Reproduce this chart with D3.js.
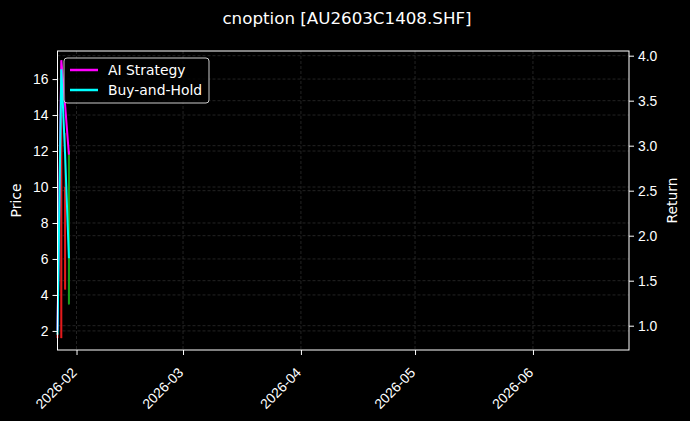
<!doctype html>
<html lang="en">
<head>
  <meta charset="utf-8">
  <title>cnoption</title>
  <style>
    body { margin: 0; background: #000; }
    svg { display: block; font-family: "DejaVu Sans", sans-serif; }
    .grid line { stroke: #555; stroke-opacity: .7; stroke-dasharray: 3,2; stroke-width: .6; }
    .axis path, .axis line { stroke: #fff; }
    .axis text { fill: #fff; font-size: 13.9px; }
  </style>
</head>
<body>
  <script src="https://cdn.jsdelivr.net/npm/d3@7/dist/d3.min.js"></script>
  <script>

// price bars (one per trading day)
var dates      = ["2026-01-27", "2026-01-28", "2026-01-29", "2026-01-30"];
var priceOpen  = [1.6, 1.6, 4.3, 12.0];
var priceHigh  = [2.2, 15.0, 13.0, 12.0];
var priceLow   = [1.4, 1.6, 4.3, 3.44];
var priceClose = [1.9, 14.0, 10.0, 3.5];

// cumulative return curves
var aiReturn   = [0.95, 3.95, 3.45, 2.9];
var holdReturn = [0.9, 3.85, 2.9, 1.75];

var priceTicks  = [2, 4, 6, 8, 10, 12, 14, 16];
var returnTicks = [1.0, 1.5, 2.0, 2.5, 3.0, 3.5, 4.0];
var monthTicks  = ["2026-02", "2026-03", "2026-04", "2026-05", "2026-06"];

var W = 690, H = 421;
var m = {left: 57.5, right: 61, top: 51, bottom: 71};
var iw = W - m.left - m.right, ih = H - m.top - m.bottom;

var parseDay = d3.utcParse("%Y-%m-%d");
var parseMonth = d3.utcParse("%Y-%m");

var x = d3.scaleUtc()
    .domain([parseDay("2026-01-27"), d3.utcParse("%Y-%m-%dT%H")("2026-06-26T06")])
    .range([0, iw]);
var yP = d3.scaleLinear().domain([0.94, 17.56]).range([ih, 0]);
var yR = d3.scaleLinear().domain([0.73, 4.052]).range([ih, 0]);

var svg = d3.select("body").append("svg")
    .attr("width", W)
    .attr("height", H);

svg.append("rect").attr("width", W).attr("height", H).attr("fill", "#000");

svg.append("text")
    .attr("x", W / 2 + 2).attr("y", 24)
    .attr("text-anchor", "middle")
    .attr("fill", "#fff")
    .style("font-size", "16.7px")
    .text("cnoption [AU2603C1408.SHF]");

var g = svg.append("g").attr("transform", "translate(" + m.left + "," + m.top + ")");

// grids from both y axes and the month ticks
var grid = g.append("g").attr("class", "grid");
grid.selectAll(".gp").data(priceTicks).enter().append("line")
    .attr("x1", 0).attr("x2", iw)
    .attr("y1", function(d){ return yP(d); }).attr("y2", function(d){ return yP(d); });
grid.selectAll(".gr").data(returnTicks).enter().append("line")
    .attr("x1", 0).attr("x2", iw)
    .attr("y1", function(d){ return yR(d); }).attr("y2", function(d){ return yR(d); });
grid.selectAll(".gx").data(monthTicks).enter().append("line")
    .attr("y1", 0).attr("y2", ih)
    .attr("x1", function(d){ return x(parseMonth(d)); }).attr("x2", function(d){ return x(parseMonth(d)); });

// price candles
var bars = dates.map(function(d, i) {
  return {t: parseDay(d), o: priceOpen[i], h: priceHigh[i], l: priceLow[i], c: priceClose[i]};
});
var candle = g.append("g").selectAll("g").data(bars).enter().append("g");
candle.append("line")
    .attr("x1", function(d){ return x(d.t); }).attr("x2", function(d){ return x(d.t); })
    .attr("y1", function(d){ return yP(d.h); }).attr("y2", function(d){ return yP(d.l); })
    .attr("stroke", function(d){ return d.c >= d.o ? "#e31a1c" : "#1a9e1a"; })
    .attr("stroke-width", 1);
candle.append("rect")
    .attr("x", function(d){ return x(d.t) - 1; })
    .attr("width", 2)
    .attr("y", function(d){ return yP(Math.max(d.o, d.c)); })
    .attr("height", function(d){ return Math.max(1, Math.abs(yP(d.o) - yP(d.c))); })
    .attr("fill", function(d){ return d.c >= d.o ? "#e31a1c" : "#1a9e1a"; });

// return lines
var line = d3.line()
    .x(function(d){ return x(d[0]); })
    .y(function(d){ return yR(d[1]); });
var aiPts = dates.map(function(d, i){ return [parseDay(d), aiReturn[i]]; });
var holdPts = dates.map(function(d, i){ return [parseDay(d), holdReturn[i]]; });

g.append("path").datum(aiPts).attr("d", line)
    .attr("fill", "none").attr("stroke", "#ff00ff").attr("stroke-width", 2);
g.append("path").datum(holdPts).attr("d", line)
    .attr("fill", "none").attr("stroke", "#00ffff").attr("stroke-width", 2);

// axes
g.append("g").attr("class", "axis")
    .call(d3.axisLeft(yP).tickValues(priceTicks).tickSize(5).tickPadding(4).tickFormat(d3.format("d")));
g.append("g").attr("class", "axis")
    .attr("transform", "translate(" + iw + ",0)")
    .call(d3.axisRight(yR).tickValues(returnTicks).tickSize(5).tickPadding(4).tickFormat(d3.format(".1f")));
var xa = g.append("g").attr("class", "axis")
    .attr("transform", "translate(0," + ih + ")")
    .call(d3.axisBottom(x).tickValues(monthTicks.map(parseMonth)).tickSize(5).tickFormat(d3.utcFormat("%Y-%m")));
xa.selectAll("text")
    .attr("text-anchor", "end")
    .attr("dy", 0)
    .attr("transform", "translate(-5,18) rotate(-45)");

// frame
g.append("rect").attr("width", iw).attr("height", ih)
    .attr("fill", "none").attr("stroke", "#fff").attr("stroke-width", 1);
g.selectAll(".axis path.domain").remove();

// axis titles
svg.append("text")
    .attr("transform", "translate(21," + (m.top + ih / 2) + ") rotate(-90)")
    .attr("text-anchor", "middle").attr("fill", "#fff").style("font-size", "13.9px")
    .text("Price");
svg.append("text")
    .attr("transform", "translate(677," + (m.top + ih / 2) + ") rotate(-90)")
    .attr("text-anchor", "middle").attr("fill", "#fff").style("font-size", "13.9px")
    .text("Return");

// legend
var lg = svg.append("g").attr("transform", "translate(64,58)");
lg.append("rect").attr("width", 145).attr("height", 45).attr("rx", 3)
    .attr("fill", "#000").attr("fill-opacity", .8)
    .attr("stroke", "#ccc").attr("stroke-width", 1);
var items = [["AI Strategy", "#ff00ff"], ["Buy-and-Hold", "#00ffff"]];
items.forEach(function(it, i) {
  var yy = 12 + i * 20;
  lg.append("line").attr("x1", 6).attr("x2", 34).attr("y1", yy).attr("y2", yy)
      .attr("stroke", it[1]).attr("stroke-width", 2.5);
  lg.append("text").attr("x", 44).attr("y", yy + 5)
      .attr("fill", "#fff").style("font-size", "13.9px").text(it[0]);
});

  </script>
</body>
</html>
